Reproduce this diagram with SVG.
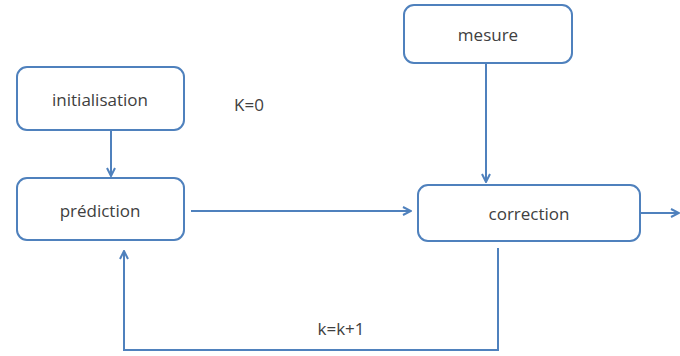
<svg xmlns="http://www.w3.org/2000/svg" width="680" height="356" viewBox="0 0 680 356">
<defs>
<style>
.box{fill:#fff;stroke:#4f81bd;stroke-width:2}
.t{font-family:"Open Sans","Liberation Sans",sans-serif;font-size:17px;fill:#404040;text-anchor:middle;dominant-baseline:central}
.c{fill:none;stroke:#4f81bd;stroke-width:2}
</style>
<marker id="ah" viewBox="0 0 10 10" refX="9" refY="5" markerWidth="5" markerHeight="5" orient="auto" markerUnits="strokeWidth">
<path d="M1,1 L9,5 L1,9" fill="none" stroke="#4f81bd" stroke-width="2"/>
</marker>
</defs>
<rect width="680" height="356" fill="#fff"/>
<g id="connectors">
<line class="c" x1="111" y1="131" x2="111" y2="176" marker-end="url(#ah)"/>
<line class="c" x1="191" y1="211" x2="411" y2="211" marker-end="url(#ah)"/>
<line class="c" x1="486" y1="64" x2="486" y2="182" marker-end="url(#ah)"/>
<line class="c" x1="641" y1="213" x2="679" y2="213" marker-end="url(#ah)"/>
<polyline class="c" points="498,248 498,350 124,350 124,251" marker-end="url(#ah)"/>
</g>
<g id="initialisation"><rect class="box" x="17" y="67" width="167" height="63" rx="10"/><text class="t" x="100" y="99">initialisation</text></g>
<g id="prediction"><rect class="box" x="17" y="178" width="167" height="62" rx="10"/><text class="t" x="100" y="210">prédiction</text></g>
<g id="mesure"><rect class="box" x="404" y="5" width="168" height="58" rx="10"/><text class="t" x="488" y="34">mesure</text></g>
<g id="correction"><rect class="box" x="418" y="185" width="222" height="56" rx="10"/><text class="t" x="529" y="213">correction</text></g>
<text class="t" x="249" y="104">K=0</text>
<text class="t" x="341" y="328">k=k+1</text>
</svg>
